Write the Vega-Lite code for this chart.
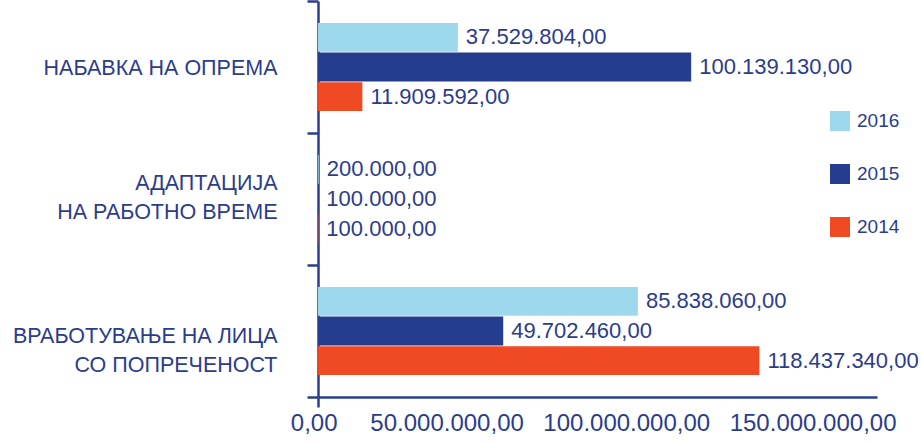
{
  "$schema": "https://vega.github.io/schema/vega-lite/v6.json",
  "autosize": {"type": "none"},
  "padding": {"left": 318, "top": 1, "right": 45, "bottom": 48},
  "width": 559,
  "height": 396,
  "background": "white",
  "config": {
    "view": {"stroke": null},
    "font": "Liberation Sans",
    "locale": {"number": {"decimal": ",", "thousands": ".", "grouping": [3], "currency": ["", ""]}}
  },
  "data": {
    "values": [
      {"category": "НАБАВКА НА ОПРЕМА", "year": "2016", "value": 37529804},
      {"category": "НАБАВКА НА ОПРЕМА", "year": "2015", "value": 100139130},
      {"category": "НАБАВКА НА ОПРЕМА", "year": "2014", "value": 11909592},
      {"category": "АДАПТАЦИЈА НА РАБОТНО ВРЕМЕ", "year": "2016", "value": 200000},
      {"category": "АДАПТАЦИЈА НА РАБОТНО ВРЕМЕ", "year": "2015", "value": 100000},
      {"category": "АДАПТАЦИЈА НА РАБОТНО ВРЕМЕ", "year": "2014", "value": 100000},
      {"category": "ВРАБОТУВАЊЕ НА ЛИЦА СО ПОПРЕЧЕНОСТ", "year": "2016", "value": 85838060},
      {"category": "ВРАБОТУВАЊЕ НА ЛИЦА СО ПОПРЕЧЕНОСТ", "year": "2015", "value": 49702460},
      {"category": "ВРАБОТУВАЊЕ НА ЛИЦА СО ПОПРЕЧЕНОСТ", "year": "2014", "value": 118437340}
    ]
  },
  "encoding": {
    "y": {
      "field": "category",
      "type": "nominal",
      "sort": ["НАБАВКА НА ОПРЕМА", "АДАПТАЦИЈА НА РАБОТНО ВРЕМЕ", "ВРАБОТУВАЊЕ НА ЛИЦА СО ПОПРЕЧЕНОСТ"],
      "scale": {"paddingInner": 0, "paddingOuter": 0},
      "axis": {
        "title": null,
        "domainColor": "#2a3f8f",
        "domainWidth": 2.5,
        "tickColor": "#2a3f8f",
        "tickWidth": 2.5,
        "tickSize": 11,
        "tickBand": "extent",
        "labelFont": "Liberation Sans",
        "labelFontSize": 21.5,
        "labelColor": "#2c3c8c",
        "labelPadding": 30,
        "labelLineHeight": 29,
        "labelLimit": 400,
        "labelOffset": {
          "condition": [
            {"test": "datum.value == 'ВРАБОТУВАЊЕ НА ЛИЦА СО ПОПРЕЧЕНОСТ'", "value": 5},
            {"test": "datum.value == 'АДАПТАЦИЈА НА РАБОТНО ВРЕМЕ'", "value": -16}
          ],
          "value": 1
        },
        "labelExpr": "datum.value == 'АДАПТАЦИЈА НА РАБОТНО ВРЕМЕ' ? ['АДАПТАЦИЈА', 'НА РАБОТНО ВРЕМЕ'] : datum.value == 'ВРАБОТУВАЊЕ НА ЛИЦА СО ПОПРЕЧЕНОСТ' ? ['ВРАБОТУВАЊЕ НА ЛИЦА', 'СО ПОПРЕЧЕНОСТ'] : datum.label"
      }
    },
    "yOffset": {
      "field": "year",
      "type": "nominal",
      "sort": ["2016", "2015", "2014"],
      "scale": {"paddingInner": 0.03, "paddingOuter": 0.74}
    },
    "x": {
      "field": "value",
      "type": "quantitative",
      "scale": {"domain": [0, 150000000], "nice": false},
      "axis": {
        "title": null,
        "grid": false,
        "values": [0, 50000000, 100000000, 150000000],
        "format": ",.2f",
        "labelAlign": "right",
        "labelOffset": 19,
        "labelFlush": false,
        "labelBound": false,
        "labelOverlap": false,
        "labelLimit": 400,
        "labelFont": "Liberation Sans",
        "labelFontSize": 24,
        "labelColor": "#2c3c8c",
        "labelPadding": 4,
        "domainColor": "#2a3f8f",
        "domainWidth": 2.5,
        "tickColor": "#2a3f8f",
        "tickWidth": 2.5,
        "tickSize": 10,
        "tickOpacity": {"condition": {"test": "datum.value == 0", "value": 1}, "value": 0}
      }
    }
  },
  "layer": [
    {
      "mark": {"type": "bar"},
      "encoding": {
        "color": {
          "field": "year",
          "type": "nominal",
          "scale": {"domain": ["2016", "2015", "2014"], "range": ["#9ed8ec", "#243d8f", "#ef4a23"]},
          "legend": {
            "title": null,
            "orient": "none",
            "legendX": 512,
            "legendY": 110,
            "symbolType": "square",
            "symbolSize": 400,
            "symbolStrokeWidth": 0,
            "labelFont": "Liberation Sans",
            "labelFontSize": 19,
            "labelColor": "#2c3c8c",
            "rowPadding": 33,
            "labelOffset": 7,
            "padding": 0
          }
        }
      }
    },
    {
      "mark": {"type": "text", "align": "left", "baseline": "middle", "dx": 8, "font": "Liberation Sans", "fontSize": 22, "color": "#2c3c8c"},
      "encoding": {
        "text": {"field": "value", "type": "quantitative", "format": ",.2f"}
      }
    }
  ]
}
